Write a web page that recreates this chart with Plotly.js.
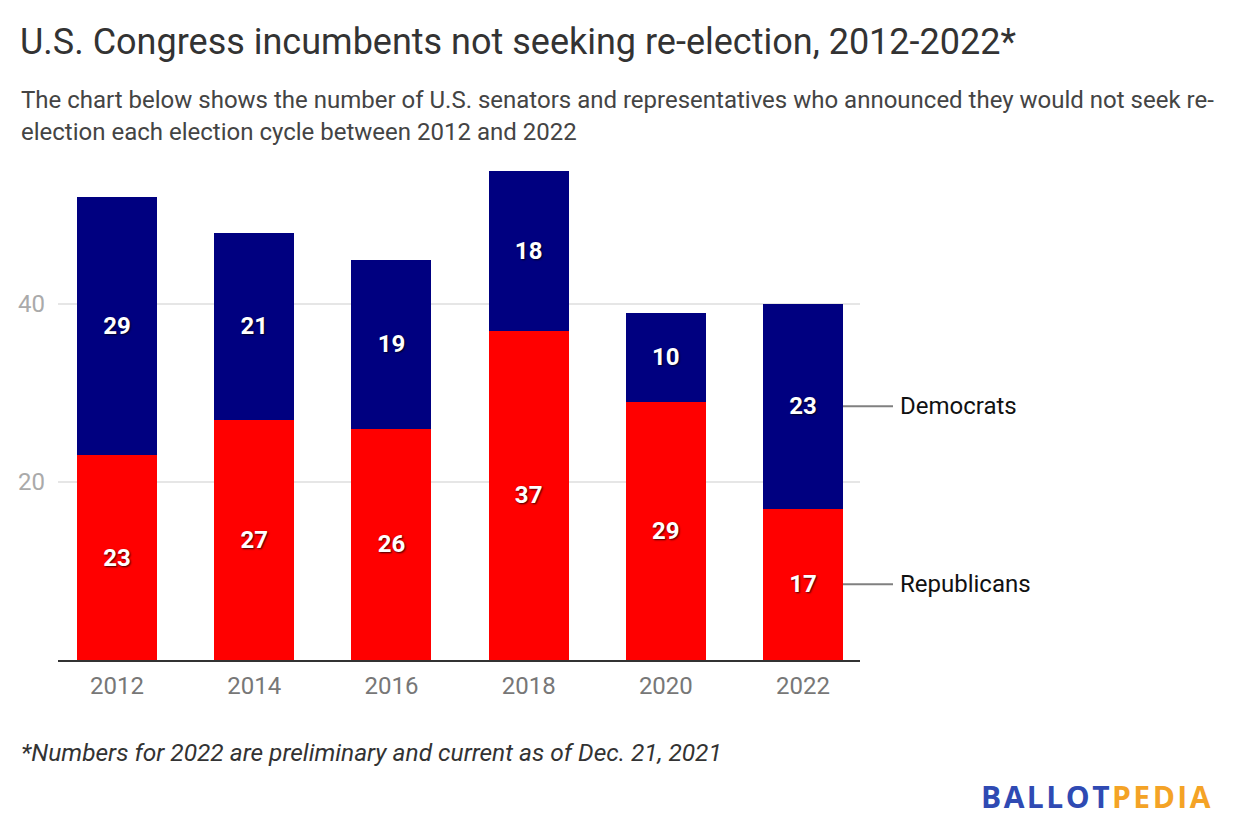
<!DOCTYPE html>
<html>
<head>
<meta charset="utf-8">
<script src="https://cdn.plot.ly/plotly-3.0.1.min.js"></script>
<style>
html,body{margin:0;padding:0;background:#fff;}
#chart{width:1240px;height:840px;}
</style>
</head>
<body>
<div id="chart"></div>
<script>
const years = ['2012','2014','2016','2018','2020','2022'];
const republicans = [23,27,26,37,29,17];
const democrats = [29,21,19,18,10,23];
const yTicks = [20,40];

const FONT = 'Roboto, "Noto Sans", sans-serif';
const L = 58, R = 860, T = 162, B = 660;
const W = 1240, H = 840;
const px = x => (x - L) / (R - L);
const py = y => (B - y) / (B - T);

const labelFont = {family: FONT, size: 24, color: '#ffffff', weight: 'bold', shadow: '1px 1px 2px rgba(0,0,0,0.75)'};

const traces = [
  {type:'bar', name:'Republicans', x: years, y: republicans, marker:{color:'#ff0000'},
   text: republicans.map(String), textposition:'inside', insidetextanchor:'middle',
   textfont: labelFont, constraintext:'none', hoverinfo:'skip'},
  {type:'bar', name:'Democrats', x: years, y: democrats, marker:{color:'#000080'},
   text: democrats.map(String), textposition:'inside', insidetextanchor:'middle',
   textfont: labelFont, constraintext:'none', hoverinfo:'skip'}
];

const last = years.length - 1;
const repMid = republicans[last] / 2;
const demMid = republicans[last] + democrats[last] / 2;

const layout = {
  width: W, height: H,
  margin: {l: L, r: W - R, t: T, b: H - B, pad: 0},
  paper_bgcolor: '#fff', plot_bgcolor: '#fff',
  barmode: 'stack', bargap: 0.417,
  showlegend: false,
  font: {family: FONT},
  xaxis: {
    type:'category', range:[-0.43, 5.415], fixedrange:true,
    showline:true, linecolor:'#333333', linewidth:2,
    showgrid:false, zeroline:false, ticks:'', ticklabelstandoff: 3,
    tickfont:{family: FONT, size: 24, color:'#777777'}
  },
  yaxis: {
    range:[0, 55.96], tickvals: yTicks, ticktext: yTicks.map(String),
    showgrid:true, gridcolor:'#e6e6e6', gridwidth:2,
    zeroline:false, showline:false, ticks:'', ticklabelstandoff: 12,
    tickfont:{family: FONT, size: 24, color:'#aaaaaa'}
  },
  shapes: [
    {type:'line', xref:'paper', yref:'y', x0: px(843), x1: px(893), y0: demMid, y1: demMid,
     line:{color:'#808080', width:2}},
    {type:'line', xref:'paper', yref:'y', x0: px(843), x1: px(893), y0: repMid, y1: repMid,
     line:{color:'#808080', width:2}}
  ],
  annotations: [
    {xref:'paper', yref:'paper', x: px(18), y: py(42), xanchor:'left', yanchor:'middle', showarrow:false,
     text:'U.S. Congress incumbents not seeking re-election, 2012-2022*',
     font:{family: FONT, size: 36, color:'#333333'}},
    {xref:'paper', yref:'paper', x: px(19), y: py(100), xanchor:'left', yanchor:'middle', showarrow:false,
     text:'The chart below shows the number of U.S. senators and representatives who announced they would not seek re-',
     font:{family: FONT, size: 24, color:'#444444'}},
    {xref:'paper', yref:'paper', x: px(19), y: py(132), xanchor:'left', yanchor:'middle', showarrow:false,
     text:'election each election cycle between 2012 and 2022',
     font:{family: FONT, size: 24, color:'#444444'}},
    {xref:'paper', yref:'y', x: px(898), y: demMid, xanchor:'left', yanchor:'middle', showarrow:false,
     text:'Democrats', font:{family: FONT, size: 24, color:'#111111'}},
    {xref:'paper', yref:'y', x: px(898), y: repMid, xanchor:'left', yanchor:'middle', showarrow:false,
     text:'Republicans', font:{family: FONT, size: 24, color:'#111111'}},
    {xref:'paper', yref:'paper', x: px(19), y: py(752), xanchor:'left', yanchor:'middle', showarrow:false,
     text:'<i>*Numbers for 2022 are preliminary and current as of Dec. 21, 2021</i>',
     font:{family: FONT, size: 24.5, color:'#333333'}},
    {xref:'paper', yref:'paper', x: px(1215), y: py(796), xanchor:'right', yanchor:'middle', showarrow:false,
     text:'<span style="color:#2f4ab3;letter-spacing:2.5px">BALLOT</span><span style="color:#f4a326;letter-spacing:2.5px">PEDIA</span>',
     font:{family: '"Open Sans", ' + FONT, size: 30, weight:'bold', color:'#2f4ab3'}}
  ]
};

Plotly.newPlot('chart', traces, layout, {displayModeBar:false, staticPlot:true});
</script>
</body>
</html>
